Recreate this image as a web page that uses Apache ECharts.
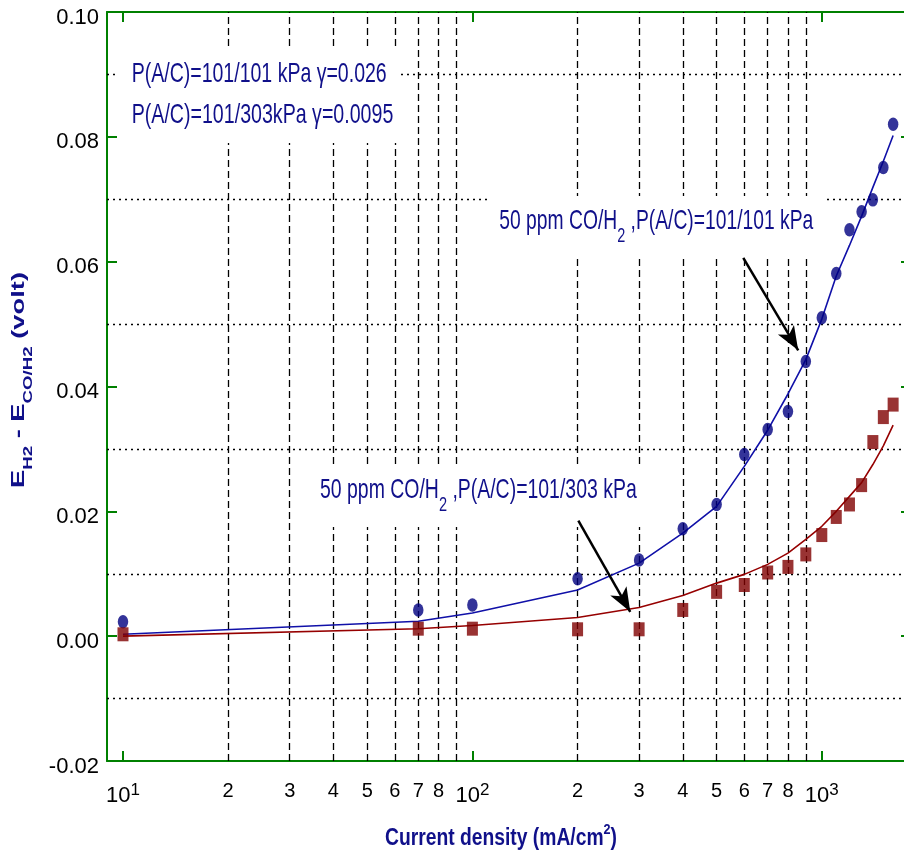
<!DOCTYPE html>
<html><head><meta charset="utf-8">
<script src="https://cdn.jsdelivr.net/npm/echarts@6/dist/echarts.min.js"></script>
<style>html,body{margin:0;padding:0;background:#fff}#c{width:904px;height:854px}</style>
</head><body><div id="c"></div>
<script>
// ---- data ----
const currentDensity = [10, 70, 100, 200, 300, 400, 500, 600, 700, 800, 900, 1000, 1100, 1200, 1300, 1400, 1500, 1600];
const measured101 = [0.0023, 0.0042, 0.0050, 0.0092, 0.0122, 0.0172, 0.0211, 0.0291, 0.0331, 0.0360, 0.0440, 0.0510, 0.0581, 0.0651, 0.0680, 0.0699, 0.0751, 0.0820];
const measured303 = [0.0003, 0.0012, 0.0012, 0.0011, 0.0011, 0.0042, 0.0071, 0.0082, 0.0102, 0.0111, 0.0131, 0.0162, 0.0191, 0.0211, 0.0242, 0.0311, 0.0351, 0.0371];
const fit101 = [0.0003, 0.0024, 0.0037, 0.0074, 0.0117, 0.0165, 0.0208, 0.0272, 0.0330, 0.0388, 0.0443, 0.0508, 0.0577, 0.0626, 0.0673, 0.0719, 0.0761, 0.0802];
const fit303 = [0.0000, 0.0012, 0.0017, 0.0030, 0.0046, 0.0065, 0.0085, 0.0099, 0.0115, 0.0133, 0.0155, 0.0176, 0.0200, 0.0224, 0.0246, 0.0275, 0.0305, 0.0338];
const minorGridX = [20, 30, 40, 50, 60, 70, 80, 90, 200, 300, 400, 500, 600, 700, 800, 900];
const minorGridLabels = ['2', '3', '4', '5', '6', '7', '8', '', '2', '3', '4', '5', '6', '7', '8', ''];
const dottedGridY = [-0.01, 0.01, 0.03, 0.05, 0.07, 0.09];
const xRange = [9, 1800];
const yRange = [-0.02, 0.10];
const yStep = 0.02;
const arrow101 = [[596, 0.0606], [856, 0.0458]];
const arrow303 = [[201, 0.0185], [283, 0.0039]];
const annotation1 = 'P(A/C)=101/101 kPa \u03b3=0.026';
const annotation2 = 'P(A/C)=101/303kPa \u03b3=0.0095';
const annotation3 = ['50 ppm CO/H', '2', ' ,P(A/C)=101/101 kPa'];
const annotation4 = ['50 ppm CO/H', '2', ' ,P(A/C)=101/303 kPa'];
const xTitle = ['Current density (mA/cm', '2', ')'];
const yTitle = ['E', 'H2', ' - E', 'CO/H2', ' (volt)'];

// ---- styles ----
const NAVY = '#10108a';
const GREEN = '#008000';
const SANS = "'Liberation Sans', Arial, sans-serif";

const mctx = document.createElement('canvas').getContext('2d');
function tw(str, size, weight) {
  mctx.font = (weight || 'normal') + ' ' + size + 'px ' + SANS;
  return mctx.measureText(str).width;
}

function plainText(str, x, yMid, size, targetW) {
  return {
    type: 'text', x: x, y: yMid, z: 7, scaleX: targetW / tw(str, size), silent: true,
    style: { text: str, fontSize: size, fontFamily: SANS, fill: NAVY, align: 'left', verticalAlign: 'middle', textAlign: 'left', textVerticalAlign: 'middle' }
  };
}
function subText(parts, x, yTop, size, subSize, subPad, targetW) {
  const w = tw(parts[0], size) + tw(parts[1], subSize) + tw(parts[2], size);
  return {
    type: 'text', x: x, y: yTop, z: 7, scaleX: targetW / w, silent: true,
    style: {
      text: '{m|' + parts[0] + '}{s|' + parts[1] + '}{m|' + parts[2] + '}',
      align: 'left', verticalAlign: 'top', textAlign: 'left', textVerticalAlign: 'top',
      rich: {
        m: { fontSize: size, fontFamily: SANS, fill: NAVY, color: NAVY, verticalAlign: 'top' },
        s: { fontSize: subSize, fontFamily: SANS, fill: NAVY, color: NAVY, verticalAlign: 'top', padding: [subPad, 0, 0, 0] }
      }
    }
  };
}

const xtW = tw(xTitle[0], 23, 'bold') + tw(xTitle[1], 15, 'bold') + tw(xTitle[2], 23, 'bold');
const ytW = tw(yTitle[0], 19, 'bold') + tw(yTitle[1], 13, 'bold') + tw(yTitle[2], 19, 'bold') + tw(yTitle[3], 13, 'bold') + tw(yTitle[4], 19, 'bold');

const graphics = [
  { type: 'rect', z: 2, silent: true, shape: { x: 117, y: 50, width: 284, height: 93 }, style: { fill: '#fff' } },
  { type: 'rect', z: 2, silent: true, shape: { x: 488, y: 196, width: 337, height: 62 }, style: { fill: '#fff' } },
  { type: 'rect', z: 2, silent: true, shape: { x: 300, y: 467, width: 355, height: 60 }, style: { fill: '#fff' } },
  plainText(annotation1, 131.7, 74, 28, 255),
  plainText(annotation2, 131.7, 115, 28, 261.6),
  subText(annotation3, 499.3, 207.7, 28, 21, 18, 314),
  subText(annotation4, 320, 476.3, 28, 21, 18, 316.7),
  {
    type: 'text', x: 385, y: 822.5, z: 7, silent: true, scaleX: 232 / xtW,
    style: {
      text: '{m|' + xTitle[0] + '}{s|' + xTitle[1] + '}{m|' + xTitle[2] + '}',
      align: 'left', verticalAlign: 'top', textAlign: 'left', textVerticalAlign: 'top',
      rich: {
        m: { fontSize: 23, fontWeight: 'bold', fontFamily: SANS, fill: NAVY, color: NAVY, verticalAlign: 'top', padding: [4.5, 0, 0, 0] },
        s: { fontSize: 15, fontWeight: 'bold', fontFamily: SANS, fill: NAVY, color: NAVY, verticalAlign: 'top' }
      }
    }
  },
  {
    type: 'text', x: 18.3, y: 380, z: 7, silent: true, rotation: Math.PI / 2, scaleX: 216 / ytW,
    originX: 0, originY: 0,
    style: {
      x: 0, y: -9.5,
      text: '{e|' + yTitle[0] + '}{s|' + yTitle[1] + '}{e|' + yTitle[2] + '}{s|' + yTitle[3] + '}{e|' + yTitle[4] + '}',
      align: 'center', verticalAlign: 'top', textAlign: 'center', textVerticalAlign: 'top',
      rich: {
        e: { fontSize: 19, fontWeight: 'bold', fontFamily: SANS, fill: NAVY, color: NAVY, verticalAlign: 'top' },
        s: { fontSize: 13, fontWeight: 'bold', fontFamily: SANS, fill: NAVY, color: NAVY, verticalAlign: 'top', padding: [13, 0, 0, 0] }
      }
    }
  }
];

function isDecade(v) { const e = Math.log10(v); return Math.abs(e - Math.round(e)) < 1e-6; }

const baseX = {
  type: 'log', logBase: 10, min: xRange[0], max: xRange[1],
  axisLine: { show: true, onZero: false, lineStyle: { color: GREEN, width: 2 } },
  axisTick: { show: true, inside: true, length: 10, lineStyle: { color: GREEN, width: 2 } },
  splitLine: { show: false }, minorTick: { show: false }, minorSplitLine: { show: false }
};
const baseY = {
  type: 'value', min: yRange[0], max: yRange[1], interval: yStep,
  axisLine: { show: true, onZero: false, lineStyle: { color: GREEN, width: 2 } },
  axisTick: { show: true, inside: true, length: 10, lineStyle: { color: GREEN, width: 2 } },
  splitLine: { show: false }
};

const chart = echarts.init(document.getElementById('c'), null, { renderer: 'canvas' });
chart.setOption({
  animation: false,
  backgroundColor: '#fff',
  grid: { left: 107, top: 12, right: -7, bottom: 93, containLabel: false, outerBoundsMode: 'none' },
  xAxis: [
    Object.assign({}, baseX, {
      position: 'bottom',
      axisLabel: {
        show: true, margin: 21,
        formatter: function (v) { return isDecade(v) ? '{b|10}{s|' + Math.round(Math.log10(v)) + '}' : ''; },
        rich: {
          b: { fontSize: 22, fontFamily: SANS, color: '#000', verticalAlign: 'top', padding: [3, 0, 0, 0] },
          s: { fontSize: 17, fontFamily: SANS, color: '#000', verticalAlign: 'top' }
        }
      }
    }),
    Object.assign({}, baseX, { position: 'top', axisLabel: { show: false } })
  ],
  yAxis: [
    Object.assign({}, baseY, {
      position: 'left',
      axisLabel: { show: true, margin: 8, fontSize: 22, fontFamily: SANS, color: '#000',
        verticalAlign: 'top', lineHeight: 11,
        formatter: function (v) { return v.toFixed(2); } }
    }),
    Object.assign({}, baseY, { position: 'right', axisLabel: { show: false } })
  ],
  graphic: { elements: graphics },
  series: [
    {
      name: 'fit 101/101', type: 'line', z: 3, data: currentDensity.map((x, i) => [x, fit101[i]]),
      showSymbol: false, symbol: 'none', lineStyle: { color: '#1010a8', width: 1.6 }, silent: true,
      markLine: {
        z: 1, silent: true, symbol: ['none', 'none'], animation: false, precision: 4,
        lineStyle: { color: '#000', width: 1.3, type: [7, 4] },
        label: { show: true, position: 'start', distance: 20, fontSize: 20, fontFamily: SANS, color: '#000' },
        emphasis: { disabled: true },
        data: minorGridX.map((v, i) => ({ xAxis: v, label: { formatter: minorGridLabels[i] } }))
          .concat(dottedGridY.map(v => ({ yAxis: v, label: { show: false }, lineStyle: { color: '#000', width: 1.3, type: [2, 4] } })))
      }
    },
    {
      name: 'fit 101/303', type: 'line', z: 3, data: currentDensity.map((x, i) => [x, fit303[i]]),
      showSymbol: false, symbol: 'none', lineStyle: { color: '#960000', width: 1.6 }, silent: true
    },
    {
      name: '101/101 kPa', type: 'scatter', z: 4, data: currentDensity.map((x, i) => [x, measured101[i]]),
      symbol: 'circle', symbolSize: [10.5, 13.5], itemStyle: { color: '#00007f' }, silent: true
    },
    {
      name: '101/303 kPa', type: 'scatter', z: 4, data: currentDensity.map((x, i) => [x, measured303[i]]),
      symbol: 'rect', symbolSize: [11, 14], itemStyle: { color: '#7f0000' }, silent: true,
      markLine: {
        z: 6, silent: true, animation: false, symbol: ['none', 'arrow'], symbolSize: [0, 20],
        lineStyle: { color: '#000', width: 2.5, type: 'solid' }, label: { show: false },
        emphasis: { disabled: true },
        data: [
          [{ coord: arrow101[0] }, { coord: arrow101[1], symbol: 'arrow', symbolSize: [14, 24] }],
          [{ coord: arrow303[0] }, { coord: arrow303[1], symbol: 'arrow', symbolSize: [14, 24] }]
        ]
      }
    }
  ]
});
</script>
</body></html>
